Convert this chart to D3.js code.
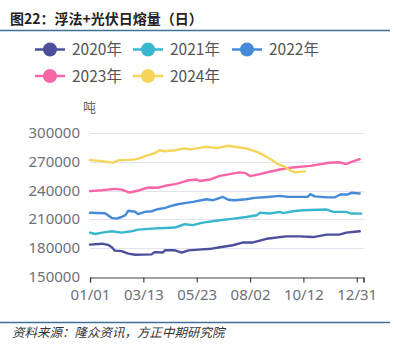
<!DOCTYPE html>
<html><head><meta charset="utf-8">
<script src="https://cdn.jsdelivr.net/npm/d3@7/dist/d3.min.js"></script>
<style>
html,body{margin:0;padding:0;background:#fff;}
svg{display:block;font-family:"Noto Sans","Noto Sans CJK SC",sans-serif;}
</style></head>
<body><svg id="c" width="395" height="346"></svg>
<script>
const title = "图22：浮法+光伏日熔量（日）";
const source = "资料来源：隆众资讯，方正中期研究院";
const unit = "吨";
const seriesNames = ["2020年","2021年","2022年","2023年","2024年"];
const colors = ["#4b4f9c","#38b6cf","#4589d9","#f866a8","#f4d55a"];
const yTicks = [150000,180000,210000,240000,270000,300000];
const xTickDays = [0,71,142,213,284,355];
const xTickLabels = ["01/01","03/13","05/23","08/02","10/12","12/31"];

// [day index, value]
const s2020 = [[0,183700],[16,184700],[24,183500],[29,181000],[33,177500],[42,177000],[51,174300],[60,173200],[82,173600],[86,175900],[97,175500],[100,178000],[113,177800],[122,175300],[131,177700],[149,178800],[162,179500],[173,181000],[190,183100],[204,186100],[217,186000],[235,189800],[261,192300],[279,192300],[297,191600],[315,194100],[332,194100],[341,196200],[359,197600]];
const s2021 = [[0,196200],[7,194800],[16,196200],[29,197600],[42,196200],[55,197600],[64,199400],[82,200400],[100,201100],[113,201500],[122,203900],[126,205000],[137,204000],[150,206700],[173,209100],[191,210800],[208,212500],[222,214300],[226,217100],[239,216100],[253,217800],[257,216500],[270,218500],[283,219600],[315,220300],[324,217800],[341,217800],[348,216100],[361,216000]];
const s2022 = [[0,217000],[20,216400],[24,214300],[29,211500],[35,210800],[42,212500],[47,214500],[51,219000],[60,218000],[64,215500],[73,217800],[82,218500],[90,220600],[100,222000],[108,224000],[117,225800],[126,227000],[137,228200],[155,231000],[164,230000],[177,233400],[184,230500],[193,230000],[208,231000],[219,232400],[236,233400],[253,234500],[263,233500],[290,233500],[293,236300],[299,234000],[316,232900],[326,233000],[333,236000],[343,236000],[348,237700],[359,237000]];
const s2023 = [[0,239400],[16,240400],[33,241800],[42,241000],[53,238000],[66,240400],[73,242200],[77,243200],[90,243000],[100,245000],[113,246700],[120,248000],[129,250500],[142,251600],[146,250000],[160,251600],[173,255400],[186,257200],[199,259000],[206,258500],[213,255100],[226,257200],[239,259600],[253,262000],[266,263800],[293,265800],[319,269000],[332,269500],[341,267600],[348,270000],[359,272800]];
const s2024 = [[0,271800],[13,271000],[31,269000],[37,271500],[51,272000],[60,272500],[66,273500],[73,276000],[80,277500],[86,279000],[93,282000],[100,281000],[113,282000],[126,284000],[133,283000],[146,284500],[155,285700],[169,284300],[184,286700],[190,286000],[209,283700],[219,281000],[226,279000],[239,273500],[250,267600],[259,265000],[266,261300],[273,259000],[286,260000]];
const allSeries = [s2020,s2021,s2022,s2023,s2024];

const svg = d3.select("#c");
const x = d3.scaleLinear().domain([0,364]).range([90,363.5]);
const y = d3.scaleLinear().domain([150000,300000]).range([277,133]);

// title
svg.append("text").attr("x",10).attr("y",24).attr("font-size",14).attr("font-weight","bold")
  .attr("fill","#222").attr("font-family","'Noto Sans CJK SC',sans-serif").text(title);
svg.append("line").attr("x1",0).attr("x2",390).attr("y1",30.5).attr("y2",30.5).attr("stroke","#3e7198").attr("stroke-width",1.5);

// legend
const legPos = [[35,49.5],[133,49.5],[232,49.5],[35,76],[133,76]];
seriesNames.forEach((n,i)=>{
  const [lx,ly] = legPos[i];
  const g = svg.append("g");
  g.append("line").attr("x1",lx).attr("x2",lx+30).attr("y1",ly).attr("y2",ly).attr("stroke",colors[i]).attr("stroke-width",2.5);
  g.append("circle").attr("cx",lx+15).attr("cy",ly).attr("r",7).attr("fill",colors[i]);
  g.append("text").attr("x",lx+37).attr("y",ly+5.5).attr("font-size",15.5).attr("fill","#555")
    .attr("font-family","'Noto Sans CJK SC',sans-serif").text(n);
});

// unit
svg.append("text").attr("x",83).attr("y",112).attr("font-size",13).attr("fill","#666")
  .attr("font-family","'Noto Sans CJK SC',sans-serif").text(unit);

// grid
svg.append("g").selectAll("line").data(yTicks.slice(1)).join("line")
  .attr("x1",90).attr("x2",363.5).attr("y1",d=>Math.round(y(d))+0.5).attr("y2",d=>Math.round(y(d))+0.5)
  .attr("stroke","#dfe4ef").attr("stroke-width",1);

// y labels
svg.append("g").selectAll("text").data(yTicks).join("text")
  .attr("x",80).attr("y",d=>y(d)+5).attr("text-anchor","end").attr("font-size",15).attr("fill","#6e7079").text(d=>d);

// x axis
const xAxis = d3.axisBottom(x).tickValues(xTickDays.concat([364])).tickSize(5)
  .tickFormat((d,i)=> i<xTickLabels.length ? xTickLabels[i] : "");
const gx = svg.append("g").attr("transform","translate(0,"+(Math.round(y(150000))+0.5)+")").call(xAxis);
gx.select(".domain").attr("stroke","#444").attr("stroke-width",1.2);
gx.selectAll(".tick line").attr("stroke","#444").attr("stroke-width",1.2);
gx.selectAll(".tick text").attr("font-size",15).attr("fill","#6e7079").attr("dy","0.95em")
  .attr("font-family","'Noto Sans',sans-serif");

// lines
const line = d3.line().x(d=>x(d[0])).y(d=>y(d[1]));
allSeries.forEach((s,i)=>{
  svg.append("path").datum(s).attr("d",line).attr("fill","none").attr("stroke",colors[i])
    .attr("stroke-width",2.4).attr("stroke-linejoin","round").attr("stroke-linecap","round");
});

// footer
svg.append("line").attr("x1",0).attr("x2",390).attr("y1",322.5).attr("y2",322.5).attr("stroke","#3e7198").attr("stroke-width",1.5);
svg.append("text").attr("x",12).attr("y",337).attr("font-size",12.5).attr("font-style","italic").attr("fill","#333")
  .attr("font-family","'Noto Sans CJK SC',sans-serif").text(source);
</script></body></html>
